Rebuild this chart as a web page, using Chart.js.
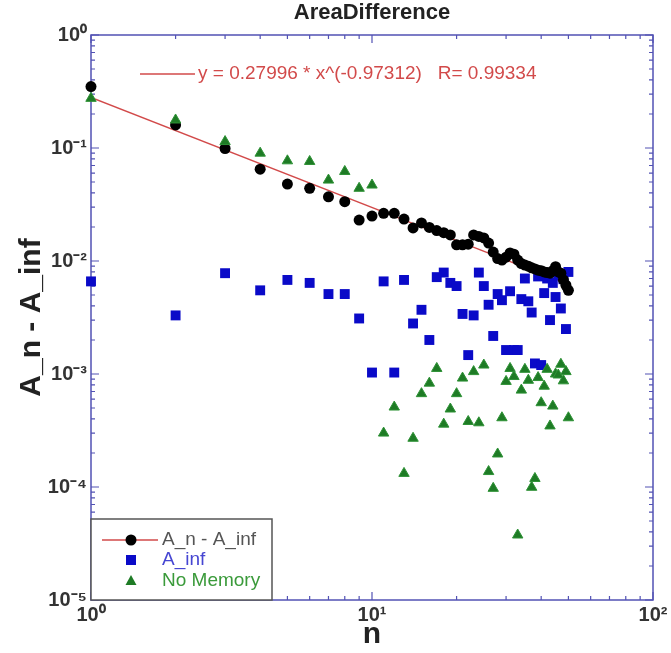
<!DOCTYPE html>
<html>
<head>
<meta charset="utf-8">
<script src="https://cdn.jsdelivr.net/npm/chart.js@4.4.1/dist/chart.umd.min.js"></script>
<style>
    html, body { margin: 0; padding: 0; background: #fff; }
    #wrap { width: 671px; height: 653px; position: relative; }
</style>
</head>
<body>
<div id="wrap"><canvas id="areaChart"></canvas></div>
<script>
// n values (x) shared by all three series
const nValues = [
    1, 2, 3, 4, 5, 6, 7, 8, 9, 10,
    11, 12, 13, 14, 15, 16, 17, 18, 19, 20,
    21, 22, 23, 24, 25, 26, 27, 28, 29, 30,
    31, 32, 33, 34, 35, 36, 37, 38, 39, 40,
    41, 42, 43, 44, 45, 46, 47, 48, 49, 50
];

// A_n - A_inf (black circles)
const diffValues = [
    0.35, 0.16, 0.099, 0.065, 0.048, 0.044, 0.037, 0.0335, 0.023, 0.025,
    0.0264, 0.0264, 0.0235, 0.0196, 0.0217, 0.0198, 0.0186, 0.0178, 0.0170, 0.0139,
    0.0139, 0.0141, 0.0170, 0.0165, 0.0160, 0.0144, 0.0120, 0.0105, 0.0102, 0.0108,
    0.0118, 0.0115, 0.0102, 0.0095, 0.0092, 0.0090, 0.0087, 0.0085, 0.0083, 0.0082,
    0.0080, 0.0079, 0.0078, 0.0082, 0.0089, 0.0080, 0.0078, 0.0068, 0.0061, 0.0055
];

// A_inf (blue squares)
const infValues = [
    0.0066, 0.0033, 0.0078, 0.0055, 0.0068, 0.0064, 0.0051, 0.0051, 0.0031, 0.00103,
    0.0066, 0.00103, 0.0068, 0.0028, 0.0037, 0.0020, 0.0072, 0.0079, 0.0064, 0.0060,
    0.0034, 0.00147, 0.0033, 0.0079, 0.0060, 0.0041, 0.00217, 0.0051, 0.0045, 0.00163,
    0.0054, 0.00163, 0.00163, 0.0046, 0.0070, 0.0044, 0.0035, 0.00124, 0.0073, 0.0012,
    0.0052, 0.0070, 0.0030, 0.0064, 0.0048, 0.0075, 0.0038, 0.0069, 0.0025, 0.0080
];

// No Memory (green triangles)
const noMemValues = [
    0.275, 0.177, 0.114, 0.090, 0.077, 0.076, 0.052, 0.062, 0.044, 0.047,
    0.00030, 0.00051, 0.000132, 0.00027, 0.00067, 0.00083, 0.00112, 0.00036, 0.00049, 0.00067,
    0.00092, 0.00038, 0.00105, 0.00037, 0.0012, 0.000137, 0.0000973, 0.000196, 0.00041, 0.00086,
    0.00112, 0.00095, 0.0000376, 0.00072, 0.0011, 0.00088, 0.0000994, 0.000119, 0.00093, 0.000557,
    0.00078, 0.0011, 0.000347, 0.00052, 0.0010, 0.00098, 0.00122, 0.00087, 0.00105, 0.00041
];

// power-law fit y = 0.27996 * x^(-0.97312), end points
const fitN = [1, 50];
const fitValues = [0.27996, 0.00622];
const fitLabel = 'y = 0.27996 * x^(-0.97312)   R= 0.99334';

// axis ticks
const xMajorTicks = [1, 10, 100];
const xTickLabels = ['10\u2070', '10\u00b9', '10\u00b2'];
const yMajorTicks = [1e-5, 1e-4, 1e-3, 1e-2, 1e-1, 1];
const yTickLabels = ['10\u207b\u2075', '10\u207b\u2074', '10\u207b\u00b3', '10\u207b\u00b2', '10\u207b\u00b9', '10\u2070'];

const FRAME = '#5252b4';
const FONT = '"Liberation Sans", Arial, sans-serif';

function toPoints(xs, ys) {
    return xs.map((x, i) => ({ x: x, y: ys[i] }));
}

function logTicks(min, max) {
    const out = [];
    for (let e = Math.round(Math.log10(min)); e < Math.round(Math.log10(max)); e++) {
        for (let m = 1; m < 10; m++) out.push({ value: m * Math.pow(10, e) });
    }
    out.push({ value: max });
    return out;
}

function isMajor(v) {
    const l = Math.log10(v);
    return Math.abs(l - Math.round(l)) < 1e-9;
}

// frame + inward ticks on all four sides
const framePlugin = {
    id: 'frame',
    beforeDatasetsDraw(chart) {
        const { ctx, chartArea: a, scales } = chart;
        ctx.save();
        ctx.strokeStyle = FRAME;
        ctx.lineWidth = 1.5;
        ctx.strokeRect(a.left, a.top, a.right - a.left, a.bottom - a.top);
        ctx.lineWidth = 1.2;
        ctx.beginPath();
        scales.x.ticks.forEach(t => {
            const px = scales.x.getPixelForValue(t.value);
            const len = isMajor(t.value) ? 8 : 4;
            ctx.moveTo(px, a.bottom); ctx.lineTo(px, a.bottom - len);
            ctx.moveTo(px, a.top); ctx.lineTo(px, a.top + len);
        });
        scales.y.ticks.forEach(t => {
            const py = scales.y.getPixelForValue(t.value);
            const len = isMajor(t.value) ? 8 : 4;
            ctx.moveTo(a.left, py); ctx.lineTo(a.left + len, py);
            ctx.moveTo(a.right, py); ctx.lineTo(a.right - len, py);
        });
        ctx.stroke();

        // fit annotation
        ctx.strokeStyle = '#d24a4a';
        ctx.lineWidth = 1.5;
        ctx.beginPath();
        ctx.moveTo(a.left + 49, a.top + 39);
        ctx.lineTo(a.left + 104, a.top + 39);
        ctx.stroke();
        ctx.fillStyle = '#d24a4a';
        ctx.font = '19px ' + FONT;
        ctx.textBaseline = 'middle';
        ctx.fillText(fitLabel, a.left + 107, a.top + 39);
        ctx.restore();
    },
    afterDatasetsDraw(chart) {
        const { ctx, chartArea: a } = chart;
        const boxTop = a.bottom - 81;
        ctx.save();
        ctx.fillStyle = '#fff';
        ctx.fillRect(a.left, boxTop, 181, 81);
        ctx.strokeStyle = '#555';
        ctx.lineWidth = 1.5;
        ctx.strokeRect(a.left, boxTop, 181, 81);

        const symX = a.left + 40;
        const textX = a.left + 71;
        const rows = [boxTop + 21, boxTop + 41, boxTop + 62];
        ctx.font = '19px ' + FONT;
        ctx.textBaseline = 'middle';

        // row 1: fit line + black circle
        ctx.strokeStyle = '#d24a4a';
        ctx.lineWidth = 1.5;
        ctx.beginPath();
        ctx.moveTo(a.left + 11, rows[0]);
        ctx.lineTo(a.left + 67, rows[0]);
        ctx.stroke();
        ctx.fillStyle = '#000';
        ctx.beginPath();
        ctx.arc(symX, rows[0], 5.5, 0, Math.PI * 2);
        ctx.fill();
        ctx.fillStyle = '#555';
        ctx.fillText('A_n - A_inf', textX, rows[0]);

        // row 2: blue square
        ctx.fillStyle = '#0a0ac8';
        ctx.fillRect(symX - 5, rows[1] - 5, 10, 10);
        ctx.fillStyle = '#4646d2';
        ctx.fillText('A_inf', textX, rows[1]);

        // row 3: green triangle
        ctx.fillStyle = '#1e7b25';
        ctx.beginPath();
        ctx.moveTo(symX, rows[2] - 6);
        ctx.lineTo(symX + 5.5, rows[2] + 4);
        ctx.lineTo(symX - 5.5, rows[2] + 4);
        ctx.closePath();
        ctx.fill();
        ctx.fillStyle = '#3a9a3a';
        ctx.fillText('No Memory', textX, rows[2]);
        ctx.restore();
    }
};

const ctx = document.getElementById('areaChart');

new Chart(ctx, {
    type: 'scatter',
    data: {
        datasets: [
            {
                label: 'No Memory',
                data: toPoints(nValues, noMemValues),
                pointStyle: 'triangle',
                pointRadius: 6,
                backgroundColor: '#1e7b25',
                borderColor: '#2e9236',
                borderWidth: 1,
                clip: false,
                order: 0
            },
            {
                label: 'A_n - A_inf',
                data: toPoints(nValues, diffValues),
                pointStyle: 'circle',
                pointRadius: 5.5,
                backgroundColor: '#000',
                borderColor: '#000',
                borderWidth: 0,
                clip: false,
                order: 1
            },
            {
                label: 'A_inf',
                data: toPoints(nValues, infValues),
                pointStyle: 'rect',
                pointRadius: 7,
                backgroundColor: '#0a0ac8',
                borderColor: '#0a0ac8',
                borderWidth: 0,
                clip: false,
                order: 2
            },
            {
                type: 'line',
                label: 'fit',
                data: toPoints(fitN, fitValues),
                borderColor: '#d24a4a',
                borderWidth: 1.3,
                pointRadius: 0,
                fill: false,
                order: 3
            }
        ]
    },
    options: {
        responsive: true,
        maintainAspectRatio: false,
        animation: false,
        layout: {
            padding: { top: 0, right: 18, left: 0, bottom: 0 }
        },
        plugins: {
            legend: { display: false },
            tooltip: { enabled: false },
            title: {
                display: true,
                fullSize: false,
                text: 'AreaDifference',
                color: '#222',
                font: { family: FONT, size: 22, weight: 'bold' },
                padding: { top: 0, bottom: 8.6 }
            }
        },
        scales: {
            x: {
                type: 'logarithmic',
                min: 1,
                max: 100,
                afterBuildTicks: scale => { scale.ticks = logTicks(1, 100); },
                afterFit: scale => { scale.height = 53; },
                grid: { display: false, drawTicks: false },
                border: { display: false },
                ticks: {
                    autoSkip: false,
                    maxRotation: 0,
                    padding: 3,
                    color: '#333',
                    font: { family: FONT, size: 20, weight: 'bold' },
                    callback: value => {
                        const i = xMajorTicks.findIndex(v => Math.abs(v - value) < value * 1e-6);
                        return i >= 0 ? xTickLabels[i] : '';
                    }
                },
                title: {
                    display: true,
                    text: 'n',
                    color: '#222',
                    font: { family: FONT, size: 30, weight: 'bold' },
                    padding: { top: 0, bottom: 0 }
                }
            },
            y: {
                type: 'logarithmic',
                min: 1e-5,
                max: 1,
                afterBuildTicks: scale => { scale.ticks = logTicks(1e-5, 1); },
                afterFit: scale => { scale.width = 91; },
                grid: { display: false, drawTicks: false },
                border: { display: false },
                ticks: {
                    autoSkip: false,
                    padding: 4,
                    color: '#333',
                    font: { family: FONT, size: 20, weight: 'bold' },
                    callback: value => {
                        const i = yMajorTicks.findIndex(v => Math.abs(v - value) < value * 1e-6);
                        return i >= 0 ? yTickLabels[i] : '';
                    }
                },
                title: {
                    display: true,
                    text: 'A_n - A_inf',
                    color: '#222',
                    font: { family: FONT, size: 30, weight: 'bold' },
                    padding: { top: 14, bottom: 0 }
                }
            }
        }
    },
    plugins: [framePlugin]
});
</script>
</body>
</html>
